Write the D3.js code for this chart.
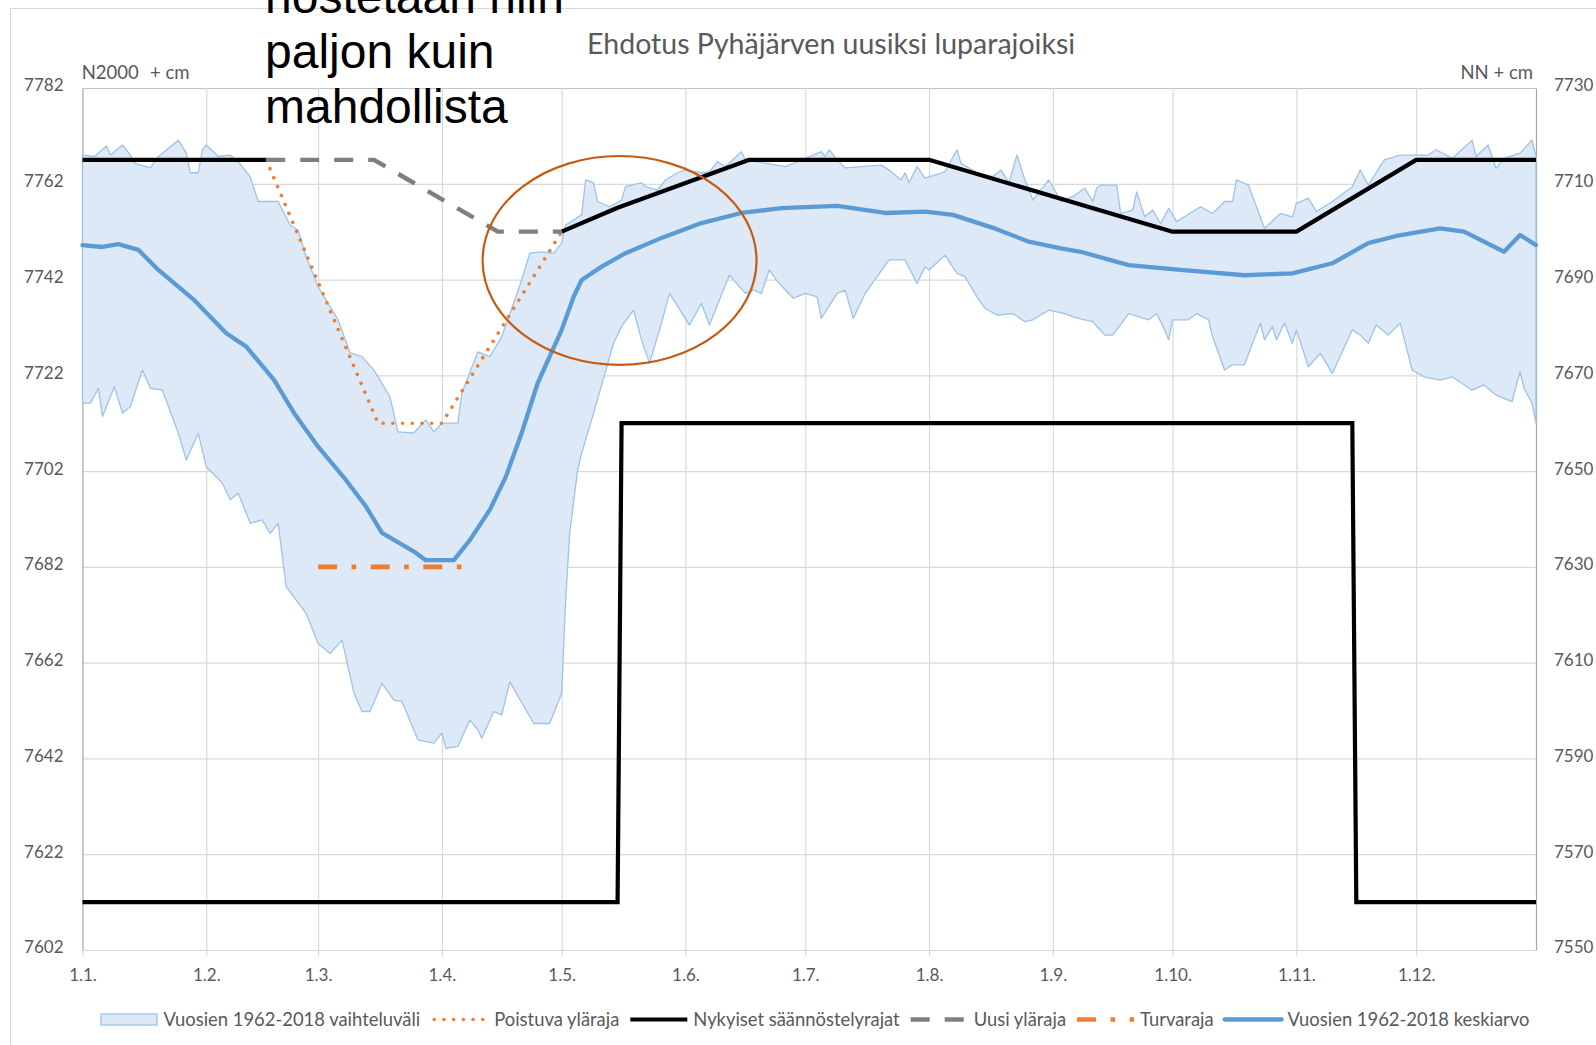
<!DOCTYPE html>
<html><head><meta charset="utf-8">
<script src="https://cdn.jsdelivr.net/npm/d3@7"></script>
<style>
body{margin:0;background:#fff}
svg{display:block}
</style>
</head><body>
<svg id="chart" width="1596" height="1045"></svg>
<script>
// ---------------- DATA ----------------
const titleText = "Ehdotus Pyhäjärven uusiksi luparajoiksi";
const annotationLines = ["nostetaan niin", "paljon kuin", "mahdollista"];
const leftAxisTitle = ["N2000", "+ cm"];
const rightAxisTitle = "NN + cm";

// x categories: first day of each month (day of year, 0 = 1.1.)
const monthStartDays = [0, 31, 59, 90, 120, 151, 181, 212, 243, 273, 304, 334];
const monthLabels = ["1.1.", "1.2.", "1.3.", "1.4.", "1.5.", "1.6.", "1.7.", "1.8.", "1.9.", "1.10.", "1.11.", "1.12."];
const leftTicks = [7602, 7622, 7642, 7662, 7682, 7702, 7722, 7742, 7762, 7782];
const rightTicks = [7550, 7570, 7590, 7610, 7630, 7650, 7670, 7690, 7710, 7730];

const legendLabels = [
  "Vuosien 1962-2018 vaihteluväli",
  "Poistuva yläraja",
  "Nykyiset säännöstelyrajat",
  "Uusi yläraja",
  "Turvaraja",
  "Vuosien 1962-2018 keskiarvo"
];

// Variation band 1962-2018 : upper edge (N2000 cm)
const bandMaxDay = [0,3,6,7,10,12,13,17,19,24,26,27,29,30,31,34,37,39,42,44,49,52,54,56,59,61,64,67,70,73,77,79,83,86,88,90,94,95,99,102,105,110,112,115,118,120,121,125,126,128,129,132,135,136,140,141,144,146,149,151,155,157,159,161,165,166,176,179,185,186,187,189,191,200,202,205,206,207,209,211,216,219,220,224,228,230,232,234,236,238,242,245,248,251,253,254,255,259,260,263,264,266,268,270,272,274,280,283,286,288,289,292,296,300,303,304,307,309,313,318,320,322,326,330,337,339,343,348,349,352,354,356,360,363,364];
const bandMaxValue = [7768,7767.7,7769.9,7768,7770.1,7768,7766.3,7765.3,7767.7,7771.1,7768.4,7764.3,7764.3,7769.1,7770.1,7767.7,7768,7766.6,7763.5,7758.3,7758.3,7753.4,7752.3,7746.8,7740.5,7737.7,7733.6,7726.7,7725.9,7723.1,7717.5,7710.2,7710,7712.7,7710.2,7712,7712,7718.3,7726.9,7725.9,7730.1,7741.9,7747.5,7747.8,7747.5,7749.6,7753.4,7755.5,7762.8,7762.2,7758.3,7757.2,7758.6,7761.4,7762.2,7761.4,7760.7,7762.8,7764.3,7764.9,7764.3,7764.5,7766.6,7765.6,7768.7,7767,7765.6,7766.6,7768.7,7767.7,7769.1,7767,7765.3,7765.9,7764.9,7762.8,7764.3,7762.2,7765.6,7763.2,7764.5,7769.1,7766.3,7764.3,7763.5,7764.9,7762.2,7768,7762.8,7758.6,7762.8,7758.4,7759.3,7761.1,7758.3,7761.1,7761.7,7761.7,7755.8,7756.5,7760.3,7755.1,7756.5,7753.7,7756.9,7754.1,7757.2,7755.8,7758.3,7758.3,7762.8,7761.7,7752.7,7755.8,7755.1,7757.9,7759,7756.2,7758.3,7761.4,7764.9,7761.7,7767,7768,7768,7769.1,7767.3,7771.1,7767.7,7770.1,7765.2,7767.3,7768.4,7771.1,7767.7];

// Variation band 1962-2018 : lower edge (N2000 cm)
const bandMinDay = [0,2,4,5,8,10,12,15,17,20,24,26,29,31,35,37,39,42,45,47,49,51,56,59,62,65,68,70,72,75,78,80,84,88,90,91,94,97,99,100,103,105,107,113,117,120,121,122,124,125,128,130,133,135,138,140,142,145,147,152,155,157,162,166,168,170,172,174,178,181,184,185,189,191,193,196,202,206,209,211,212,216,219,221,224,226,229,233,236,238,242,246,248,251,253,256,258,262,267,269,271,272,273,277,279,282,283,286,288,291,293,295,296,298,299,301,303,304,307,310,313,318,320,322,324,327,330,333,336,340,343,348,351,354,356,358,360,361,363,364];
const bandMinValue = [7716.2,7716.2,7719.3,7713.4,7719.6,7714.1,7715.5,7723.1,7719.3,7718.9,7709.9,7704.3,7709.9,7702.9,7699.5,7696,7697.4,7691.1,7691.8,7689,7691.1,7677.9,7672.3,7666,7663.9,7666.7,7655.6,7651.8,7651.8,7657.7,7654.2,7653.9,7645.9,7645.2,7647.3,7644.1,7644.5,7650,7648,7646.2,7651.8,7651.1,7658,7649.3,7649.3,7655.6,7675.1,7689,7702.2,7705.7,7714.1,7720,7728.7,7732.2,7735.6,7729.4,7724.5,7732.9,7739.1,7732.5,7737,7732.5,7742.9,7739.1,7739.8,7739.1,7744,7741.6,7738.1,7739.1,7738.4,7733.9,7739.1,7739.8,7733.9,7739.1,7746.1,7746.1,7741.2,7744.7,7744,7747.1,7743.3,7742.6,7738.4,7736,7734.6,7734.9,7733.2,7733.6,7735.6,7734.9,7734.2,7733.6,7733.2,7730.4,7730.4,7734.9,7733.6,7734.9,7731.5,7729.4,7733.6,7733.6,7734.9,7733.6,7730.1,7723.1,7724.2,7724.2,7728.7,7732.9,7729.4,7732.2,7729.4,7732.9,7728.7,7731.5,7723.8,7726.6,7722.4,7731.5,7730.4,7728.7,7732.5,7730.4,7732.9,7723.1,7721.7,7721,7721.7,7718.9,7720,7717.9,7717.2,7716.5,7722.8,7719.3,7716.2,7712];

// Mean 1962-2018 (N2000 cm)
const meanDay = [0,5,9,14,19,28,36,41,48,53,59,66,71,75,83,86,93,97,102,106,110,114,120,123,125,130,136,145,155,165,175,189,201,211,218,228,237,245,250,262,275,291,303,313,322,329,340,346,356,360,364];
const meanValue = [7749.2,7748.8,7749.4,7748.2,7744,7737.7,7730.8,7728,7721,7714.1,7707.1,7700.1,7694.6,7689.1,7685.2,7683.4,7683.4,7687.6,7693.9,7700.8,7710,7720.4,7731.5,7738.4,7741.9,7744.7,7747.5,7750.7,7753.8,7755.9,7756.9,7757.4,7755.9,7756.2,7755.5,7752.8,7749.9,7748.5,7747.8,7745,7744,7742.9,7743.3,7745.4,7749.6,7751.1,7752.7,7752,7747.8,7751.3,7749.2];

// Current regulation limits (Nykyiset säännöstelyrajat)
const currentUpperADay = [0, 46];
const currentUpperAValue = [7767, 7767];
const currentUpperBDay = [120, 134, 167, 212, 273, 304, 334, 364];
const currentUpperBValue = [7752, 7757, 7767, 7767, 7752, 7752, 7767, 7767];
const currentLowerDay = [0, 134, 135, 318, 319, 364];
const currentLowerValue = [7612, 7612, 7712, 7712, 7612, 7612];

// Removed upper limit (Poistuva yläraja)
const oldUpperDay = [46, 74, 90, 120];
const oldUpperValue = [7767, 7712, 7712, 7752];

// New upper limit (Uusi yläraja)
const newUpperDay = [46, 73, 104, 120];
const newUpperValue = [7767, 7767, 7752, 7752];

// Safety limit (Turvaraja)
const safetyDay = [59, 95];
const safetyValue = [7682, 7682];

// Highlight ellipse (data coords: day, value; radii in days / cm)
const highlightCenter = [134.5, 7746];
const highlightRadius = [34.3, 21.8];

// ---------------- CHART ----------------
const FONT = "Lato, 'Open Sans', sans-serif";
const GREY_TEXT = "#595959";
const svg = d3.select("#chart");
const plot = {left: 82.5, right: 1536, top: 88, bottom: 950};

const x = d3.scaleLinear().domain([0, 364]).range([plot.left, plot.right]);
const yL = d3.scaleLinear().domain([7602, 7782]).range([plot.bottom, plot.top]);
const yR = d3.scaleLinear().domain([7550, 7730]).range([plot.bottom, plot.top]);
const zip = (a, b) => a.map((d, i) => [d, b[i]]);
const line = d3.line().x(d => x(d[0])).y(d => yL(d[1]));
const intFmt = d3.format("d");

// outer chart frame
svg.append("rect").attr("x", 10.5).attr("y", 8.5).attr("width", 1700).attr("height", 1200)
  .attr("fill", "#fff").attr("stroke", "#d9d9d9").attr("stroke-width", 1);

// horizontal grid
const gGridY = svg.append("g").attr("transform", `translate(${plot.left},0)`)
  .call(d3.axisLeft(yL).tickValues(leftTicks).tickSize(-(plot.right - plot.left)).tickFormat(""));
gGridY.select(".domain").remove();
gGridY.selectAll("line").attr("stroke", d => d === 7782 ? "#c4c4c4" : "#d9d9d9").attr("stroke-width", 1.2);

// vertical grid
const gGridX = svg.append("g").attr("transform", `translate(0,${plot.top})`)
  .call(d3.axisBottom(x).tickValues(monthStartDays.slice(1)).tickSize(plot.bottom - plot.top).tickFormat(""));
gGridX.select(".domain").remove();
gGridX.selectAll("line").attr("stroke", "#d9d9d9").attr("stroke-width", 1.2);

// x axis
const gx = svg.append("g").attr("transform", `translate(0,${plot.bottom})`)
  .call(d3.axisBottom(x).tickValues(monthStartDays).tickFormat((d, i) => monthLabels[i])
    .tickSize(6).tickSizeOuter(0).tickPadding(13));
gx.attr("font-family", FONT).attr("font-size", 17);
gx.select(".domain").attr("stroke", "#d9d9d9").attr("stroke-width", 1.2);
gx.selectAll(".tick line").attr("stroke", "#d9d9d9").attr("stroke-width", 1.2);
gx.selectAll("text").attr("fill", GREY_TEXT);

// left axis labels
const gyl = svg.append("g").attr("transform", `translate(${plot.left},0)`)
  .call(d3.axisLeft(yL).tickValues(leftTicks).tickFormat(intFmt).tickSize(0).tickPadding(19));
gyl.attr("font-family", FONT).attr("font-size", 17);
gyl.select(".domain").attr("stroke", "#a6a6a6").attr("stroke-width", 1.2);
gyl.selectAll("text").attr("fill", GREY_TEXT).attr("y", -2.5);

// right axis labels
const gyr = svg.append("g").attr("transform", `translate(${plot.right},0)`)
  .call(d3.axisRight(yR).tickValues(rightTicks).tickFormat(intFmt).tickSize(0).tickPadding(18));
gyr.attr("font-family", FONT).attr("font-size", 17);
gyr.select(".domain").attr("stroke", "#a6a6a6").attr("stroke-width", 1.2);
gyr.selectAll("text").attr("fill", GREY_TEXT).attr("y", -2.5);

// axis titles
svg.append("text").attr("x", 81.7).attr("y", 78.5).attr("font-family", FONT).attr("font-size", 18.5)
  .attr("fill", GREY_TEXT).text(leftAxisTitle[0]);
svg.append("text").attr("x", 150).attr("y", 78.5).attr("font-family", FONT).attr("font-size", 18.5)
  .attr("fill", GREY_TEXT).text(leftAxisTitle[1]);
svg.append("text").attr("x", 1533).attr("y", 78.5).attr("text-anchor", "end").attr("font-family", FONT)
  .attr("font-size", 18.5).attr("fill", GREY_TEXT).text(rightAxisTitle);

// title
svg.append("text").attr("x", 831).attr("y", 53.5).attr("text-anchor", "middle").attr("font-family", FONT)
  .attr("font-size", 28.5).attr("fill", GREY_TEXT).text(titleText);

// ---- series ----
const bandPoints = zip(bandMaxDay, bandMaxValue).concat(zip(bandMinDay, bandMinValue).reverse());
svg.append("path").attr("d", line(bandPoints) + "Z")
  .attr("fill", "#dde9f6").attr("stroke", "#9dc3e6").attr("stroke-width", 1.3).attr("stroke-linejoin", "round");

const STY = {
  old:    {stroke: "#ED7D31", width: 3.6, dash: "0.01 9.7", cap: "round"},
  cur:    {stroke: "#000000", width: 4.2, dash: null, cap: "butt"},
  neu:    {stroke: "#7F7F7F", width: 4.4, dash: "19 15", cap: "butt"},
  safe:   {stroke: "#ED7D31", width: 4.6, dash: "19 14.5 4.6 14.5", cap: "butt"},
  mean:   {stroke: "#5B9BD5", width: 4.3, dash: null, cap: "round"}
};
function drawLine(pts, s) {
  const p = svg.append("path").attr("d", line(pts)).attr("fill", "none")
    .attr("stroke", s.stroke).attr("stroke-width", s.width).attr("stroke-linecap", s.cap)
    .attr("stroke-linejoin", "round");
  if (s.dash) p.attr("stroke-dasharray", s.dash);
  return p;
}
drawLine(zip(oldUpperDay, oldUpperValue), STY.old);
drawLine(zip(currentUpperADay, currentUpperAValue), STY.cur);
drawLine(zip(currentUpperBDay, currentUpperBValue), STY.cur);
drawLine(zip(currentLowerDay, currentLowerValue), STY.cur).attr("stroke-linejoin", "miter");
drawLine(zip(newUpperDay, newUpperValue), STY.neu);
drawLine(zip(safetyDay, safetyValue), STY.safe);
drawLine(zip(meanDay, meanValue), STY.mean);

// highlight ellipse
svg.append("ellipse")
  .attr("cx", x(highlightCenter[0])).attr("cy", yL(highlightCenter[1]))
  .attr("rx", x(highlightRadius[0]) - x(0)).attr("ry", yL(highlightCenter[1] - highlightRadius[1]) - yL(highlightCenter[1]))
  .attr("fill", "none").attr("stroke", "#C55A11").attr("stroke-width", 2.2);

// annotation text (first line runs off the top edge, as in the original slide)
const ann = svg.append("text").attr("font-family", "'Liberation Sans', Arial, sans-serif").attr("font-size", 48).attr("fill", "#000");
annotationLines.forEach((t, i) => {
  ann.append("tspan").attr("x", 265).attr("y", 13 + i * 55).text(t);
});

// ---- legend ----
const legendStyles = ["area", STY.old, STY.cur, STY.neu, STY.safe, STY.mean];
const lg = svg.append("g");
const SW = 57, GAP_T = 6, GAP_I = 11, LY = 1019.5;
let cx = 0;
legendLabels.forEach((lab, i) => {
  const g = lg.append("g").attr("transform", `translate(${cx},0)`);
  const s = legendStyles[i];
  if (s === "area") {
    g.append("rect").attr("x", 0.5).attr("y", LY - 5.5).attr("width", SW - 1).attr("height", 11)
      .attr("fill", "#dde9f6").attr("stroke", "#9dc3e6").attr("stroke-width", 1.3);
  } else {
    const l = g.append("line").attr("x1", 0).attr("x2", SW).attr("y1", LY).attr("y2", LY)
      .attr("stroke", s.stroke).attr("stroke-width", s.width).attr("stroke-linecap", s.cap);
    if (s.dash) l.attr("stroke-dasharray", s.dash);
    if (s === STY.old) l.attr("x1", 3);
  }
  const t = g.append("text").attr("x", SW + GAP_T).attr("y", LY + 6).attr("font-family", FONT)
    .attr("font-size", 18.4).attr("fill", GREY_TEXT).text(lab);
  cx += SW + GAP_T + t.node().getComputedTextLength() + GAP_I;
});
const total = cx - GAP_I;
lg.attr("transform", `translate(${815 - total / 2},0)`);
</script>
</body></html>
